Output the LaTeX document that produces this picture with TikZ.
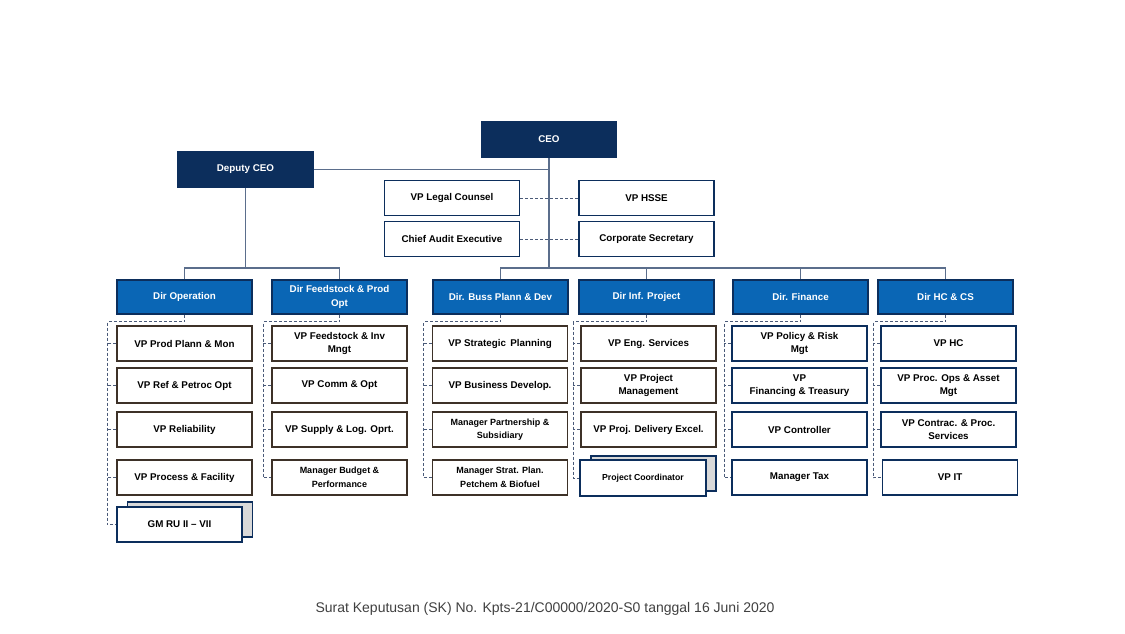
\documentclass[tikz,border=0pt]{standalone}
\usepackage{fontspec}
\setmainfont{Liberation Sans}
\usetikzlibrary{positioning}
\definecolor{ceonavy}{HTML}{0C2E5C}
\definecolor{dirblue}{HTML}{0A66B5}
\definecolor{vpbrown}{HTML}{3D3128}
\definecolor{linkgray}{HTML}{5B6E8C}
\definecolor{dashgray}{HTML}{4A5A78}
\definecolor{shadowgray}{HTML}{D9D9D9}
\definecolor{captiongray}{HTML}{404040}

\begin{document}
\begin{tikzpicture}[x=1pt,y=-1pt,
		box/.style={draw, rectangle, minimum width=135pt, minimum height=35pt, inner sep=1pt, align=center, line width=1.4pt, font=\bfseries\fontsize{9.8}{13.5}\selectfont},
		topbox/.style={box, fill=ceonavy, draw=ceonavy, text=white},
		dirbox/.style={box, fill=dirblue, draw=ceonavy, text=white, minimum height=34pt},
		staffbox/.style={box, fill=white, draw=ceonavy},
		vpbox/.style={box, fill=white, draw=vpbrown},
		vpnavy/.style={box, fill=white, draw=ceonavy},
		mgrbox/.style={vpbox, font=\bfseries\fontsize{9}{13.5}\selectfont},
		shadowbox/.style={box, fill=shadowgray, draw=ceonavy, minimum width=125pt},
		link/.style={draw=linkgray, line width=1.2pt},
		dotlink/.style={draw=dashgray, line width=0.9pt, dash pattern=on 3pt off 2pt}]
		\useasboundingbox (0,0) rectangle (1125,633);

		% top level
		\node [topbox] (ceo) at (549,139.5) {CEO};
		\node [topbox] (dep) at (245.5,169.5) {Deputy CEO};
		\node [staffbox] (legal) at (452,198) {VP Legal Counsel};
		\node [staffbox] (hsse) at (646.5,198) {VP HSSE};
		\node [staffbox] (audit) at (452,239) {Chief Audit Executive};
		\node [staffbox] (corsec) at (646.5,239) {Corporate Secretary};

		% directors
		\node [dirbox] (dop) at (184.5,297) {Dir Operation};
		\node [dirbox] (dfp) at (339.5,297) {Dir Feedstock \& Prod\\Opt};
		\node [dirbox] (dbp) at (500.5,297) {Dir. Buss Plann \& Dev};
		\node [dirbox] (dip) at (646.5,297) {Dir Inf. Project};
		\node [dirbox] (dfi) at (800.5,297) {Dir. Finance};
		\node [dirbox] (dhc) at (945.5,297) {Dir HC \& CS};

		% Dir Operation
		\node [vpbox] (op1) at (184.5,343.5) {VP Prod Plann \& Mon};
		\node [vpbox] (op2) at (184.5,385.5) {VP Ref \& Petroc Opt};
		\node [vpbox] (op3) at (184.5,429.5) {VP Reliability};
		\node [vpbox] (op4) at (184.5,477.5) {VP Process \& Facility};
		\node [shadowbox] (gmback) at (190,519.5) {};
		\node [vpnavy, minimum width=125pt] (gm) at (179.5,524.5) {GM RU II – VII};

		% Dir Feedstock
		\node [vpbox] (fp1) at (339.5,343.5) {VP Feedstock \& Inv\\Mngt};
		\node [vpbox] (fp2) at (339.5,385.5) {VP Comm \& Opt};
		\node [vpbox] (fp3) at (339.5,429.5) {VP Supply \& Log. Oprt.};
		\node [mgrbox] (fp4) at (339.5,477.5) {Manager Budget \&\\Performance};

		% Dir Buss Plann
		\node [vpbox] (bp1) at (500,343.5) {VP Strategic \,Planning};
		\node [vpbox] (bp2) at (500,385.5) {VP Business Develop.};
		\node [mgrbox] (bp3) at (500,429.5) {Manager Partnership \&\\Subsidiary};
		\node [mgrbox] (bp4) at (500,477.5) {Manager Strat. Plan.\\Petchem \& Biofuel};

		% Dir Inf. Project
		\node [vpbox] (ip1) at (648.5,343.5) {VP Eng. Services};
		\node [vpbox] (ip2) at (648.5,385.5) {VP Project\\Management};
		\node [vpbox] (ip3) at (648.5,429.5) {VP Proj. Delivery Excel.};
		\node [shadowbox] (pcback) at (653.5,473.5) {};
		\node [vpnavy, minimum width=126pt, minimum height=36pt, font=\bfseries\fontsize{8.7}{13}\selectfont] (pc) at (643,478) {Project Coordinator};

		% Dir Finance
		\node [vpnavy] (fi1) at (799.5,343.5) {VP Policy \& Risk\\Mgt};
		\node [vpnavy] (fi2) at (799.5,385.5) {VP\\Financing \& Treasury};
		\node [vpnavy] (fi3) at (799.5,429.5) {VP Controller};
		\node [vpnavy] (fi4) at (799.5,477.5) {Manager Tax};

		% Dir HC & CS
		\node [vpnavy] (hc1) at (948.5,343.5) {VP HC};
		\node [vpnavy] (hc2) at (948.5,385.5) {VP Proc. Ops \& Asset\\Mgt};
		\node [vpnavy] (hc3) at (948.5,429.5) {VP Contrac. \& Proc.\\Services};
		\node [vpnavy] (hc4) at (950,477.5) {VP IT};

		% solid lines
		\coordinate (bar) at (0,268);
		\draw [link] (ceo.south) -- (ceo.south |- bar);
		\draw [link] (dep.east) -- (dep.east -| ceo.south);
		\draw [link] (dep.south) -- (dep.south |- bar);
		\draw [link] (dop.north) -- (dop.north |- bar) -| (dfp.north);
		\draw [link] (dbp.north) -- (dbp.north |- bar) -| (dhc.north);
		\draw [link] (dip.north) -- (dip.north |- bar);
		\draw [link] (dfi.north) -- (dfi.north |- bar);

		% dashed lines
		\draw [dotlink] (legal.east) -- (hsse.west);
		\draw [dotlink] (audit.east) -- (corsec.west);
		\draw [dotlink] (dop.south) -- ++(0,7) -| ([xshift=-9pt]op1.west) |- (gm.west);
		\draw [dotlink] (dfp.south) -- ++(0,7) -| ([xshift=-8pt]fp1.west) |- (fp4.west);
		\draw [dotlink] (dbp.south) -- ++(0,7) -| ([xshift=-8pt]bp1.west) |- (bp4.west);
		\draw [dotlink] (dip.south) -- ++(0,7) -| ([xshift=-7pt]ip1.west) |- (pc.west);
		\draw [dotlink] (dfi.south) -- ++(0,7) -| ([xshift=-7pt]fi1.west) |- (fi4.west);
		\draw [dotlink] (dhc.south) -- ++(0,7) -| ([xshift=-7pt]hc1.west) |- (hc4.west);
		\foreach \n/\s in {op1/9,op2/9,op3/9,op4/9,fp1/8,fp2/8,fp3/8,bp1/8,bp2/8,bp3/8,ip1/7,ip2/7,ip3/7,fi1/7,fi2/7,fi3/7,hc1/7,hc2/7,hc3/7}
			\draw [dotlink] (\n.west) -- ++(-\s,0);

		% caption
		\node [text=captiongray, font=\fontsize{14}{17}\selectfont] (sk) at (545,609) {Surat Keputusan (SK) No. Kpts-21/C00000/2020-S0 tanggal 16 Juni 2020};
	\end{tikzpicture}
\end{document}
